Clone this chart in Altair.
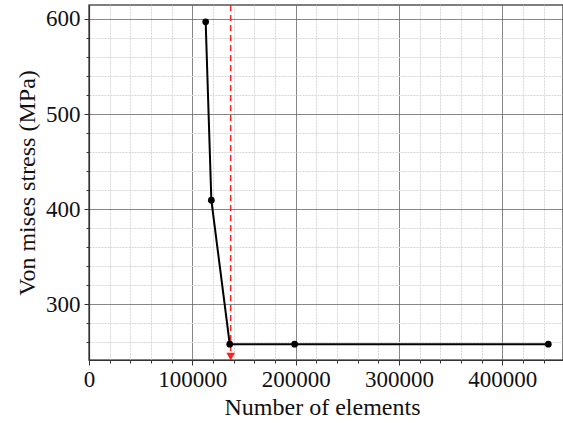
import altair as alt
import pandas as pd

# Data
elements = [112900, 118400, 136200, 199000, 444500]
stress = [597, 409.5, 258, 258, 258]
converged_elements = [137100]
arrow_stress = [245]

x_tick_values = list(range(0, 460000, 20000))
y_tick_values = list(range(260, 601, 20))

df = pd.DataFrame({"elements": elements, "stress": stress})
df_rule = pd.DataFrame({"elements": converged_elements})
df_arrow = pd.DataFrame({"elements": converged_elements, "stress": arrow_stress})

FONT = "Liberation Serif"
MAJOR = "#5e5e5e"
MINOR = "#d6d6d6"

x_major = "datum.value % 100000 === 0"
y_major = "datum.value % 100 === 0"

x_axis = alt.Axis(
    values=x_tick_values,
    format="d",
    labelExpr=f"{x_major} ? datum.label : ''",
    labelOverlap=False,
    labelFlush=False,
    grid=True,
    gridColor={"condition": {"test": x_major, "value": MAJOR}, "value": MINOR},
    gridDash={"condition": {"test": x_major, "value": [1, 0]}, "value": [2, 1]},
    tickSize={"condition": {"test": x_major, "value": 5}, "value": 3},
    labelPadding=3,
    title="Number of elements",
    titlePadding=4,
    titleX=233,
)

y_axis = alt.Axis(
    values=y_tick_values,
    labelExpr=f"{y_major} ? datum.label : ''",
    labelOverlap=False,
    labelFlush=False,
    grid=True,
    gridColor={"condition": {"test": y_major, "value": MAJOR}, "value": MINOR},
    gridDash={"condition": {"test": y_major, "value": [1, 0]}, "value": [2, 1]},
    tickSize={"condition": {"test": y_major, "value": 5}, "value": 3},
    labelPadding=4,
    title="Von mises stress (MPa)",
    titlePadding=6,
)

x_scale = alt.Scale(domain=[0, 458700], nice=False, zero=False)
y_scale = alt.Scale(domain=[241.4, 614.7], nice=False, zero=False)

X = alt.X("elements:Q", scale=x_scale, axis=x_axis)
Y = alt.Y("stress:Q", scale=y_scale, axis=y_axis)

line = alt.Chart(df).mark_line(color="black", strokeWidth=2).encode(x=X, y=Y)
points = alt.Chart(df).mark_circle(color="black", size=45, opacity=1).encode(x=X, y=Y)
rule = alt.Chart(df_rule).mark_rule(color="#ff2020", strokeDash=[6, 4], strokeWidth=1.5).encode(x=X)
arrow = alt.Chart(df_arrow).mark_point(
    shape="triangle-down", filled=True, color="#ff2020", size=75, opacity=1
).encode(x=X, y=Y)

chart = (
    alt.layer(rule, line, points, arrow)
    .properties(
        width=474,
        height=355,
        padding={"left": 89, "top": 5, "right": 0, "bottom": 63},
        autosize=alt.AutoSizeParams(type="none"),
        background="white",
    )
    .configure_view(stroke="#555555", strokeWidth=1.5)
    .configure_axis(
        labelFont=FONT,
        labelFontSize=23,
        labelColor="#111111",
        titleFont=FONT,
        titleFontSize=24,
        titleFontWeight="normal",
        titleColor="#111111",
        tickColor="#333333",
        domainColor="#333333",
        domainWidth=1.2,
        gridWidth=1,
    )
)

chart.save("out.html", embed_options={"renderer": "svg", "actions": False})
